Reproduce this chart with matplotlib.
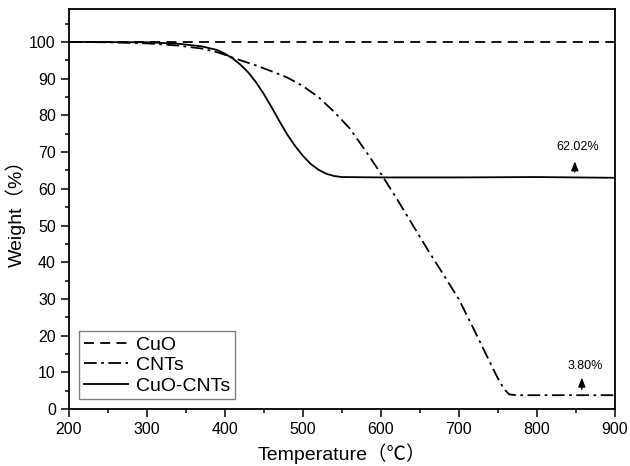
import matplotlib
matplotlib.use("Agg")
import matplotlib.pyplot as plt
import numpy as np

plt.rcParams['font.family'] = ['Liberation Sans', 'Noto Sans CJK SC', 'DejaVu Sans']

# CuO: flat
cuo_T = [200, 900]
cuo_W = [100, 100]

# CNTs
cnt_T = [200, 250, 300, 340, 370, 390, 400, 420, 440, 460, 480, 500, 520, 540,
         560, 580, 600, 620, 640, 660, 680, 700, 720, 740, 750, 758, 765, 775, 900]
cnt_W = [100, 99.9, 99.6, 99.0, 98.2, 97.2, 96.5, 95.0, 93.6, 92.0, 90.3, 88.0,
         85.0, 81.0, 76.5, 70.5, 64.2, 57.5, 50.5, 43.5, 36.8, 30.0, 21.5, 12.8,
         8.5, 5.5, 4.0, 3.8, 3.8]

# CuO-CNTs
cc_T = [200, 300, 340, 370, 390, 400, 410, 420, 430, 440, 450, 460, 470, 480,
        490, 500, 510, 520, 530, 540, 550, 600, 700, 800, 900]
cc_W = [100, 99.9, 99.5, 98.8, 97.8, 96.8, 95.5, 93.8, 91.7, 89.0, 85.8, 82.2,
        78.4, 74.8, 71.7, 69.0, 66.8, 65.2, 64.1, 63.5, 63.2, 63.1, 63.1, 63.2, 63.0]

# annotations: label, x, line value, arrow tip, text y
notes = [("62.02%", 849, 63.8, 68.2, 71.3),
         ("3.80%", 858, 4.6, 9.3, 11.7)]

fig = plt.figure(figsize=(6.30, 4.66), dpi=100)
ax = fig.add_axes([0.1095, 0.122, 0.866, 0.859])

ax.plot(cuo_T, cuo_W, color='black', lw=1.3, dashes=(5.5, 3.5), label='CuO')
ax.plot(cnt_T, cnt_W, color='black', lw=1.3, dashes=(7, 2.5, 1.5, 2.5), label='CNTs')
ax.plot(cc_T, cc_W, color='black', lw=1.3, label='CuO-CNTs')

for txt, x, y0, y1, yt in notes:
    ax.annotate('', xy=(x, y1), xytext=(x, y0),
                arrowprops=dict(arrowstyle='-|>,head_width=0.22,head_length=0.55',
                                color='black', lw=0.9))
    ax.text(x + 4, yt, txt, fontsize=9, ha='center', va='center')

ax.set_xlim(200, 900)
ax.set_ylim(0, 109)
ax.set_xticks(np.arange(200, 901, 100))
ax.set_xticks(np.arange(250, 900, 100), minor=True)
ax.set_yticks(np.arange(0, 101, 10))
ax.set_yticks(np.arange(5, 109, 10), minor=True)
ax.tick_params(which='major', length=6, width=1.1, labelsize=11.5, direction='out')
ax.tick_params(which='minor', length=3, width=1.1, direction='out')
for s in ax.spines.values():
    s.set_linewidth(1.3)

ax.set_xlabel('Temperature（℃）', fontsize=14, labelpad=4)
ax.set_ylabel('Weight（%）', fontsize=14, labelpad=2)

leg = ax.legend(loc='lower left', fontsize=14, handlelength=2.3, fancybox=False,
                edgecolor='gray', borderaxespad=0.5, borderpad=0.25,
                labelspacing=0.15, handletextpad=0.4, framealpha=1)
leg.get_frame().set_linewidth(1.0)

fig.savefig('out.png', dpi=100)
